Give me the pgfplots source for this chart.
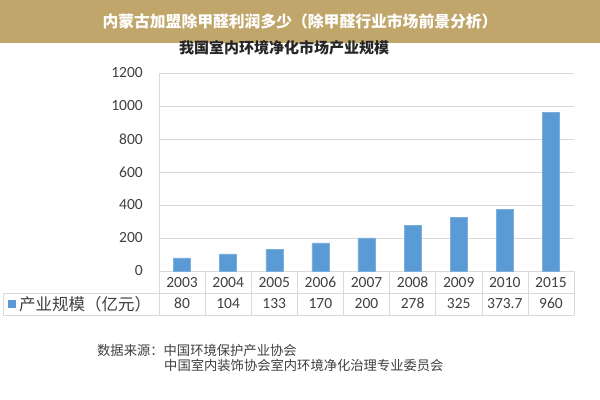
\documentclass[border=0pt]{standalone}
\usepackage{fontspec}
\usepackage{pgfplots}
\pgfplotsset{compat=1.18}
\newfontfamily\cjk{Noto Sans CJK SC}
\newfontfamily\num{Carlito}
\definecolor{banner}{HTML}{C1A66B}
\definecolor{barblue}{HTML}{5B9BD5}
\definecolor{gridc}{HTML}{D9D9D9}
\definecolor{txt}{HTML}{404040}
\begin{document}
\begin{tikzpicture}
\fill[white] (0,0) rectangle (600bp,400bp);
\fill[banner] (0,357bp) rectangle (600bp,400bp);
\node[text=white, font={\cjk\bfseries\fontsize{15.8bp}{18bp}\selectfont}] at (300bp,379bp) {内蒙古加盟除甲醛利润多少（除甲醛行业市场前景分析）};
\node[text=black!85, font={\cjk\bfseries\fontsize{15bp}{17bp}\selectfont}] at (284bp,352bp) {我国室内环境净化市场产业规模};
\begin{axis}[
  at={(159bp,129bp)}, anchor=south west,
  width=415bp, height=198bp, scale only axis,
  xmin=-0.5, xmax=8.5, ymin=0, ymax=1200,
  ytick={0,200,...,1200},
  xtick={0,...,8},
  xticklabels={{2003\\80},{2004\\104},{2005\\133},{2006\\170},{2007\\200},{2008\\278},{2009\\325},{2010\\373.7},{2015\\960}},
  axis x line*=bottom, axis y line*=left,
  axis line style={gridc, -},
  ymajorgrids, grid style={gridc},
  major tick length=0pt,
  /pgf/number format/assume math mode=true,
  /pgf/number format/1000 sep={},
  yticklabel style={anchor=east, inner sep=0pt, xshift=-16bp, text=txt, font={\num\fontsize{15.5bp}{18bp}\selectfont}},
  xticklabel style={anchor=center, align=center, yshift=-22bp, inner sep=0pt, text=txt, font={\num\fontsize{15.5bp}{21bp}\selectfont}},
  clip=false,
]
\addplot[ybar, bar width=17bp, fill=barblue, draw=barblue!80!white] coordinates {
(0,80) (1,104) (2,133) (3,170) (4,200) (5,278) (6,325) (7,373.7) (8,960)};
\end{axis}
\foreach \i in {0,...,9} \draw[gridc] (159bp+\i*46.11bp,129bp) -- (159bp+\i*46.11bp,85bp);
\draw[gridc] (3bp,107bp) -- (574bp,107bp);
\draw[gridc] (3bp,85bp) -- (574bp,85bp);
\draw[gridc] (3bp,85bp) -- (3bp,107bp);
\fill[barblue] (8bp,92bp) rectangle (16bp,100bp);
\node[anchor=west, inner sep=0pt, text=txt, font={\cjk\fontsize{16.5bp}{18bp}\selectfont}] at (19bp,96bp) {产业规模（亿元）};
\node[anchor=west, inner sep=0pt, text=black!75, font={\cjk\fontsize{13.3bp}{15bp}\selectfont}] at (97bp,50bp) {数据来源：中国环境保护产业协会};
\node[anchor=west, inner sep=0pt, text=black!75, font={\cjk\fontsize{13.3bp}{15bp}\selectfont}] at (164bp,35bp) {中国室内装饰协会室内环境净化治理专业委员会};
\end{tikzpicture}
\end{document}
